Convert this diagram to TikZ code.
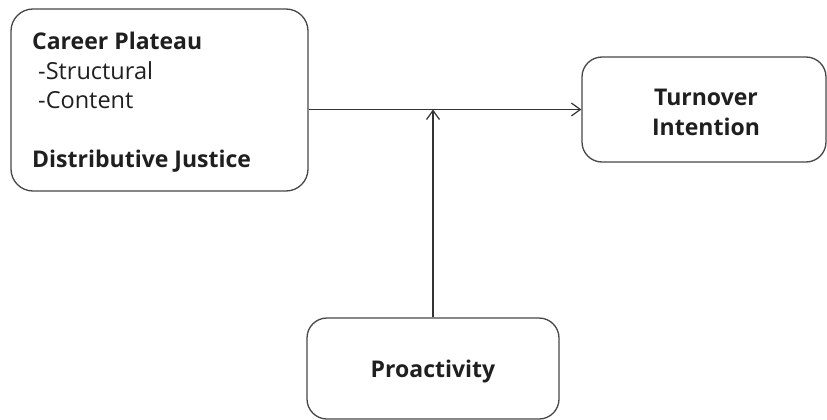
\documentclass[tikz,border=0pt]{standalone}
\usepackage{fontspec}
\setmainfont{Open Sans}
\usetikzlibrary{arrows.meta}
\begin{document}
\begin{tikzpicture}[x=1pt,y=-1pt,
  box/.style={draw=black!72,line width=1.3pt,rounded corners=22pt,inner sep=0pt},
  conn/.style={draw=black!80,line width=1.2pt,-{Straight Barb[length=9pt,width=13pt,line width=1.2pt]}},
  lbl/.style={inner sep=0pt,anchor=base west,text=black!88,font=\fontsize{23.5}{28}\selectfont},
  blbl/.style={inner sep=0pt,anchor=base west,text=black!88,font=\bfseries\fontsize{23}{28}\selectfont},
  clbl/.style={inner sep=0pt,text=black!88,font=\bfseries\fontsize{23}{30}\selectfont,align=center}]
\useasboundingbox (0,0) rectangle (827,420);
\node[box,minimum width=297pt,minimum height=182pt] (cp) at (159.5,100) {};
\node[box,minimum width=244pt,minimum height=105pt,rounded corners=20pt] (ti) at (704,109.5) {};
\node[box,minimum width=252pt,minimum height=101pt,rounded corners=20pt] (pr) at (433,368.5) {};
\node[blbl] (t1) at (32,50) {Career Plateau};
\node[lbl] (t2) at (38,80) {-Structural};
\node[lbl] (t3) at (38,108) {-Content};
\node[blbl] (t4) at (32,167) {Distributive Justice};
\node[clbl] (t5) at (706,112) {Turnover\\Intention};
\node[clbl] (t6) at (433,372) {Proactivity};
\coordinate (j) at (pr.north |- ti.west);
\draw[conn] (cp.east |- ti.west) -- (ti.west);
\draw[conn] (pr.north) -- (j);
\end{tikzpicture}
\end{document}
